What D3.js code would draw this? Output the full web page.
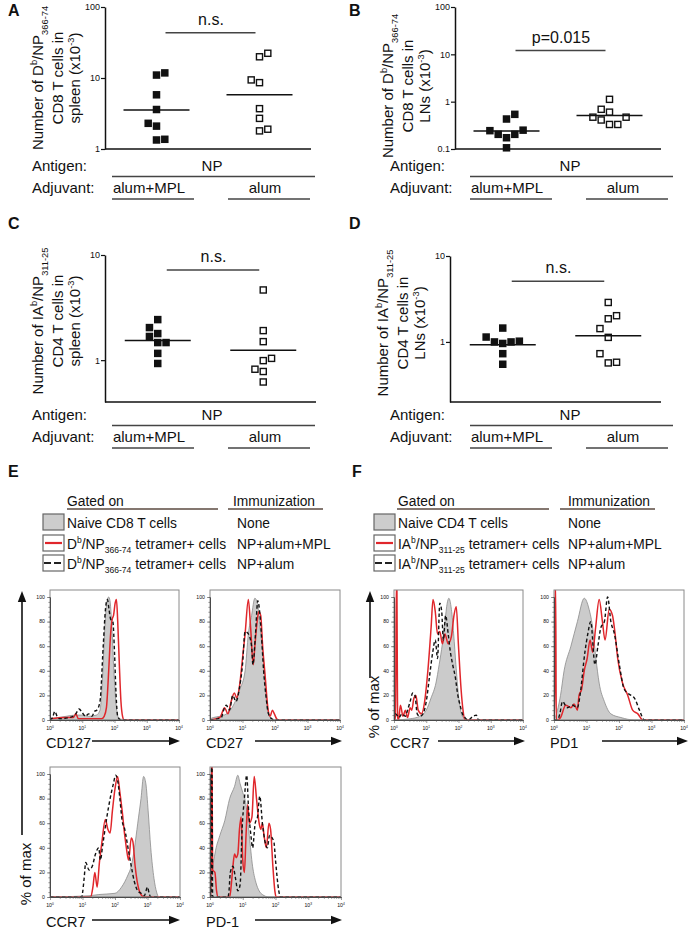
<!DOCTYPE html>
<html><head><meta charset="utf-8">
<script src="https://cdn.jsdelivr.net/npm/d3@7"></script>
<style>body{margin:0;background:#fff}svg{display:block}text{font-family:"Liberation Sans",Arial,sans-serif;fill:#111}</style>
</head><body><svg id="c" width="693" height="930"></svg>
<script>
// ---------------- DATA ----------------
const groups = ["alum+MPL", "alum"];
// Panel A (Db/NP366-74 CD8, spleen)
const ticksA = [1, 10, 100];
const aMPL = [11.0, 11.8, 5.8, 3.6, 2.3, 2.1, 1.34, 1.37];
const aMPLcol = [0, 1, 0, 0, -1, 0, 0, 1];
const aAlum = [19.9, 22.3, 9.4, 8.6, 3.7, 2.7, 1.8, 1.9];
const aAlumCol = [0, 1, -1, 0, 0, 0, 0, 1];
const aMed = [3.55, 5.8];
// Panel B (Db/NP366-74 CD8, LNs)
const ticksB = [0.1, 1, 10, 100];
const bMPL = [0.54, 0.43, 0.244, 0.204, 0.173, 0.204, 0.25, 0.106];
const bMPLcol = [1, 0, -2, -1, 0, 1, 2, 0];
const bAlum = [1.12, 0.69, 0.6, 0.47, 0.41, 0.33, 0.33, 0.47];
const bAlumCol = [0, -1, 0, -2, -1, 0, 1, 2];
const bMed = [0.24, 0.51];
// Panel C (IAb/NP311-25 CD4, spleen)
const ticksC = [1, 10];
const cMPL = [2.43, 2.04, 1.68, 1.79, 1.47, 1.47, 1.16, 0.93];
const cMPLcol = [0, -1, -1, 0, 0, 1, 0, 0];
const cAlum = [4.65, 1.91, 1.50, 1.04, 0.99, 0.82, 0.78, 0.62];
const cAlumCol = [0, 0, 0, 1, 0, -1, 0, 0];
const cMed = [1.54, 1.24];
// Panel D (IAb/NP311-25 CD4, LNs)
const ticksD = [1, 10];
const dMPL = [1.45, 1.14, 1.0, 0.96, 1.0, 1.02, 0.73, 0.55];
const dMPLcol = [0, -2, -1, 0, 1, 2, 0, 0];
const dAlum = [2.88, 1.86, 2.02, 1.43, 1.13, 0.73, 0.57, 0.58];
const dAlumCol = [0, 0, 1, -1, 0, -1, 0, 1];
const dMed = [0.93, 1.18];
const sigLabels = ["n.s.", "p=0.015", "n.s.", "n.s."];

// Histograms: [log10 fluorescence, % of max]
const histTicksY = [0, 20, 40, 60, 80, 100];
const histTicksX = [1, 10, 100, 1000, 10000];
const e127Naive = [[0,1],[0.5,3],[0.8,4],[1.0,4],[1.2,3],[1.44,4],[1.55,8],[1.63,35],[1.7,75],[1.77,97],[1.82,100],[1.86,97],[1.91,80],[1.98,40],[2.06,10],[2.14,1],[2.4,0],[4,0]];
const e127MPL = [[0,1],[0.5,2],[0.72,2],[0.8,5],[0.88,1],[1.2,1],[1.6,1],[1.68,3],[1.75,10],[1.82,40],[1.88,70],[1.93,82],[1.97,85],[2.02,95],[2.06,98],[2.1,80],[2.15,45],[2.2,15],[2.25,3],[2.3,0],[4,0]];
const e127Alum = [[0,0],[0.08,2],[0.15,7],[0.22,3],[0.3,1],[0.6,2],[0.8,5],[0.9,9],[1.0,6],[1.1,3],[1.2,5],[1.3,3],[1.38,7],[1.45,8],[1.55,15],[1.65,60],[1.72,90],[1.78,98],[1.83,90],[1.88,82],[1.95,80],[2.0,55],[2.05,20],[2.1,3],[2.2,0],[4,0]];
const e27Naive = [[0,1],[0.1,2],[0.3,3],[0.51,5],[0.72,12],[0.92,25],[1.08,40],[1.18,70],[1.28,85],[1.38,99],[1.46,95],[1.54,75],[1.64,50],[1.72,20],[1.79,5],[1.9,1],[2.05,0],[4,0]];
const e27MPL = [[0,0],[0.3,2],[0.45,10],[0.55,5],[0.65,15],[0.75,22],[0.82,18],[0.92,30],[1.0,50],[1.08,70],[1.18,98],[1.25,75],[1.33,45],[1.38,60],[1.45,80],[1.5,88],[1.56,85],[1.62,60],[1.7,35],[1.78,10],[1.85,3],[1.92,8],[1.98,5],[2.05,1],[2.1,0],[4,0]];
const e27Alum = [[0,0],[0.35,2],[0.42,8],[0.5,12],[0.6,8],[0.7,20],[0.8,15],[0.9,25],[1.0,45],[1.08,72],[1.18,70],[1.28,60],[1.32,45],[1.4,70],[1.47,97],[1.52,90],[1.58,70],[1.65,40],[1.72,20],[1.8,5],[1.9,1],[2.0,0],[4,0]];
const eCCR7Naive = [[0,0],[1.2,1],[1.5,2],[2.0,3],[2.2,8],[2.4,18],[2.5,25],[2.6,40],[2.7,60],[2.8,80],[2.88,98],[2.95,92],[3.02,70],[3.1,40],[3.2,15],[3.28,4],[3.35,0],[4,0]];
const eCCR7MPL = [[0,0],[1.25,0],[1.32,8],[1.38,20],[1.45,8],[1.52,28],[1.6,45],[1.7,63],[1.78,55],[1.85,52],[1.92,70],[2.0,88],[2.08,98],[2.15,85],[2.22,70],[2.3,50],[2.35,40],[2.42,30],[2.5,48],[2.55,45],[2.62,25],[2.7,10],[2.8,2],[2.9,0],[4,0]];
const eCCR7Alum = [[0,0],[0.98,0],[1.0,3],[1.05,15],[1.1,28],[1.2,22],[1.3,25],[1.4,35],[1.5,40],[1.55,30],[1.62,42],[1.75,65],[1.85,80],[1.95,92],[2.02,99],[2.08,95],[2.15,80],[2.22,62],[2.3,55],[2.4,40],[2.5,25],[2.6,12],[2.7,5],[2.8,3],[2.9,1],[3.0,8],[3.05,3],[3.1,0],[4,0]];
const ePD1Naive = [[0,0],[0.02,2],[0.05,15],[0.15,35],[0.3,50],[0.45,62],[0.6,80],[0.75,90],[0.85,99],[0.92,92],[1.0,85],[1.1,75],[1.2,50],[1.3,25],[1.4,12],[1.5,5],[1.6,2],[1.8,0],[4,0]];
const ePD1MPL = [[0,0],[0.03,0],[0.045,110],[0.06,110],[0.08,22],[0.15,20],[0.2,5],[0.25,0],[0.6,0],[0.65,10],[0.7,25],[0.75,35],[0.8,32],[0.85,35],[0.9,55],[0.95,65],[1.0,30],[1.05,20],[1.1,50],[1.15,75],[1.2,60],[1.28,65],[1.35,98],[1.42,80],[1.5,60],[1.55,55],[1.6,60],[1.65,50],[1.72,40],[1.8,60],[1.85,55],[1.92,25],[1.98,5],[2.02,0],[4,0]];
const ePD1Alum = [[0,0],[0.03,0],[0.045,110],[0.06,110],[0.08,0],[0.55,0],[0.58,5],[0.62,20],[0.7,25],[0.78,15],[0.85,5],[0.92,10],[0.98,55],[1.05,80],[1.12,99],[1.18,70],[1.25,50],[1.3,40],[1.38,60],[1.45,65],[1.52,82],[1.6,60],[1.68,45],[1.75,40],[1.82,50],[1.95,45],[2.0,30],[2.1,5],[2.15,0],[4,0]];
const fCCR7Naive = [[0,0],[0.5,1],[0.8,3],[1.0,8],[1.15,18],[1.3,30],[1.4,45],[1.5,62],[1.58,80],[1.65,95],[1.7,99],[1.78,90],[1.85,70],[1.92,45],[2.0,20],[2.08,6],[2.15,2],[2.3,0],[4,0]];
const fCCR7MPL = [[0,0],[0.05,0],[0.07,110],[0.09,110],[0.11,3],[0.14,0],[0.2,12],[0.28,3],[0.35,8],[0.42,2],[0.5,10],[0.55,8],[0.62,18],[0.68,20],[0.75,8],[0.85,5],[0.95,15],[1.05,40],[1.15,75],[1.21,98],[1.28,88],[1.35,70],[1.42,72],[1.5,62],[1.58,70],[1.68,62],[1.78,68],[1.86,85],[1.93,92],[2.0,60],[2.08,25],[2.14,8],[2.2,0],[4,0]];
const fCCR7Alum = [[0,0],[0.05,5],[0.15,2],[0.25,5],[0.35,3],[0.42,8],[0.5,15],[0.58,22],[0.65,20],[0.72,5],[0.8,3],[0.9,5],[1.0,15],[1.1,35],[1.2,55],[1.28,65],[1.35,50],[1.42,95],[1.48,88],[1.53,65],[1.6,85],[1.68,70],[1.75,55],[1.82,45],[1.9,35],[1.98,20],[2.05,12],[2.12,5],[2.2,2],[2.3,0],[2.45,3],[2.55,4],[2.62,0],[4,0]];
const fPD1Naive = [[0,0],[0.05,3],[0.2,20],[0.31,40],[0.52,60],[0.72,80],[0.93,99],[1.08,90],[1.19,75],[1.29,50],[1.39,30],[1.55,15],[1.75,5],[2.06,2],[2.47,0],[4,0]];
const fPD1MPL = [[0,0],[0.02,0],[0.035,110],[0.05,110],[0.07,0],[0.12,0],[0.2,2],[0.36,12],[0.52,10],[0.62,13],[0.72,8],[0.77,20],[0.85,25],[0.93,40],[1.02,50],[1.11,65],[1.19,55],[1.28,75],[1.39,98],[1.49,80],[1.57,65],[1.7,90],[1.8,85],[1.88,70],[1.96,50],[2.11,30],[2.27,20],[2.42,8],[2.58,5],[2.73,0],[4,0]];
const fPD1Alum = [[0,0],[0.1,0],[0.18,5],[0.26,15],[0.41,10],[0.57,12],[0.72,10],[0.8,20],[0.95,55],[1.04,70],[1.13,80],[1.26,45],[1.35,60],[1.44,75],[1.55,80],[1.65,100],[1.75,80],[1.86,70],[2.01,45],[2.16,25],[2.37,20],[2.47,18],[2.63,8],[2.78,0],[4,0]];

// ---------------- HELPERS ----------------
const svg = d3.select("#c");
const FONT = 15;

function rich(sel, parts, size) {
  let shift = 0;
  parts.forEach(p => {
    const t = typeof p === "string" ? p : p[0];
    const kind = typeof p === "string" ? null : p[1];
    const target = kind === "sup" ? -size * 0.4 : kind === "sub" ? size * 0.3 : 0;
    sel.append("tspan").attr("dy", target - shift)
      .attr("font-size", kind ? size * 0.62 : size).text(t);
    shift = target;
  });
  return sel;
}

function letter(t, x, y) {
  svg.append("text").attr("x", x).attr("y", y).attr("font-size", 16)
    .attr("font-weight", "bold").text(t);
}

function arrow(x1, y1, x2, y2) {
  const g = svg.append("g");
  const dx = x2 - x1, dy = y2 - y1, L = Math.hypot(dx, dy);
  const ux = dx / L, uy = dy / L, hl = 11, hw = 4.2;
  g.append("line").attr("x1", x1).attr("y1", y1)
    .attr("x2", x2 - ux * hl * 0.8).attr("y2", y2 - uy * hl * 0.8)
    .attr("stroke", "#111").attr("stroke-width", 1.6);
  const bx = x2 - ux * hl, by = y2 - uy * hl;
  g.append("path").attr("d",
    `M${x2},${y2}L${bx - uy * hw},${by + ux * hw}L${bx + uy * hw},${by - ux * hw}Z`)
    .attr("fill", "#111");
}

// ---------------- DOT PANELS ----------------
const panels = [
  { L: "A", lx: 8, ly: 16, x0: 105, x1: 311, yTop: 7, yBot: 149, domain: [1, 100], ticks: ticksA,
    mpl: aMPL, mplCol: aMPLcol, alum: aAlum, alumCol: aAlumCol, med: aMed, sigAt: 43.5, sig: sigLabels[0],
    cell: "CD8", organ: "spleen", cy: 78, rowX0: 112, rowY: 171 },
  { L: "B", lx: 349, ly: 16, x0: 455, x1: 661, yTop: 7, yBot: 149, domain: [0.1, 100], ticks: ticksB,
    mpl: bMPL, mplCol: bMPLcol, alum: bAlum, alumCol: bAlumCol, med: bMed, sigAt: 12, sig: sigLabels[1],
    cell: "CD8", organ: "LNs", cy: 86, rowX0: 470, rowY: 171 },
  { L: "C", lx: 8, ly: 229, x0: 105, x1: 316, yTop: 255, yBot: 402, domain: [0.4, 10], ticks: ticksC,
    mpl: cMPL, mplCol: cMPLcol, alum: cAlum, alumCol: cAlumCol, med: cMed, sigAt: 7.2, sig: sigLabels[2],
    cell: "CD4", organ: "spleen", cy: 321, rowX0: 112, rowY: 420 },
  { L: "D", lx: 349, ly: 229, x0: 450, x1: 661, yTop: 256, yBot: 402, domain: [0.2, 10], ticks: ticksD,
    mpl: dMPL, mplCol: dMPLcol, alum: dAlum, alumCol: dAlumCol, med: dMed, sigAt: 5.1, sig: sigLabels[3],
    cell: "CD4", organ: "LNs", cy: 323, rowX0: 470, rowY: 420 }
];

panels.forEach(p => {
  letter(p.L, p.lx, p.ly);
  const y = d3.scaleLog().domain(p.domain).range([p.yBot, p.yTop]);
  const x = d3.scalePoint().domain(groups).range([p.x0, p.x1]).padding(0.5);
  const g = svg.append("g");
  const ax = g.append("g").attr("transform", `translate(${p.x0},0)`)
    .call(d3.axisLeft(y).tickValues(p.ticks).tickFormat(d3.format("~g")).tickSize(4).tickSizeOuter(0));
  ax.select(".domain").attr("stroke", "#111").attr("stroke-width", 1.5);
  ax.selectAll(".tick line").attr("stroke", "#111").attr("stroke-width", 1.2);
  ax.selectAll(".tick text").attr("font-size", 9).attr("x", -5)
    .style("font-family", '"Liberation Sans",Arial,sans-serif').attr("fill", "#111");
  g.append("line").attr("x1", x.range()[0]).attr("x2", x.range()[1])
    .attr("y1", p.yBot).attr("y2", p.yBot).attr("stroke", "#111").attr("stroke-width", 1.5);

  const jit = 8.3, s = 7.5;
  const mplPts = p.mpl.map((v, i) => ({ v, c: p.mplCol[i] }));
  const alumPts = p.alum.map((v, i) => ({ v, c: p.alumCol[i] }));
  g.selectAll(".f").data(mplPts).join("rect")
    .attr("x", d => x(groups[0]) + d.c * jit - s / 2).attr("y", d => y(d.v) - s / 2)
    .attr("width", s).attr("height", s).attr("fill", "#111");
  g.selectAll(".o").data(alumPts).join("rect")
    .attr("x", d => x(groups[1]) + d.c * jit - (s - 1.4) / 2).attr("y", d => y(d.v) - (s - 1.4) / 2)
    .attr("width", s - 1.4).attr("height", s - 1.4).attr("fill", "#fff")
    .attr("stroke", "#111").attr("stroke-width", 1.4);
  groups.forEach((gr, i) => {
    g.append("line").attr("x1", x(gr) - 33).attr("x2", x(gr) + 33)
      .attr("y1", y(p.med[i])).attr("y2", y(p.med[i])).attr("stroke", "#111").attr("stroke-width", 1.5);
  });
  // significance
  const sy = y(p.sigAt);
  g.append("line").attr("x1", x(groups[0]) + 9).attr("x2", x(groups[1]) - 4)
    .attr("y1", sy).attr("y2", sy).attr("stroke", "#444").attr("stroke-width", 1.5);
  g.append("text").attr("x", (x(groups[0]) + x(groups[1])) / 2 + 3).attr("y", sy - 8)
    .attr("text-anchor", "middle").attr("font-size", 16).text(p.sig);

  // y label
  const tetr = p.cell === "CD8"
    ? ["Number of D", ["b", "sup"], "/NP", ["366-74", "sub"]]
    : ["Number of IA", ["b", "sup"], "/NP", ["311-25", "sub"]];
  const lines = [tetr, [p.cell + " T cells in"], [p.organ + " (x10", ["-3", "sup"], ")"]];
  const bxs = [p.x0 - 62, p.x0 - 42, p.x0 - 25];
  lines.forEach((ln, i) => {
    const t = g.append("text").attr("text-anchor", "middle")
      .attr("transform", `translate(${bxs[i]},${p.cy}) rotate(-90)`);
    rich(t, ln, FONT);
  });

  // rows
  const r0 = p.rowX0, ry = p.rowY;
  g.append("text").attr("x", r0 - 80).attr("y", ry).attr("font-size", FONT).text("Antigen:");
  g.append("text").attr("x", r0 - 80).attr("y", ry + 22).attr("font-size", FONT).text("Adjuvant:");
  g.append("text").attr("x", r0 + 100).attr("y", ry).attr("text-anchor", "middle").attr("font-size", FONT).text("NP");
  g.append("text").attr("x", r0 + 37).attr("y", ry + 22).attr("text-anchor", "middle").attr("font-size", FONT).text(groups[0]);
  g.append("text").attr("x", r0 + 153).attr("y", ry + 22).attr("text-anchor", "middle").attr("font-size", FONT).text(groups[1]);
  [[r0, r0 + 203, ry + 5.5], [r0, r0 + 82, ry + 28], [r0 + 116, r0 + 198, ry + 28]].forEach(([a, b, yy]) => {
    g.append("line").attr("x1", a).attr("x2", b).attr("y1", yy).attr("y2", yy)
      .attr("stroke", "#444").attr("stroke-width", 1.5);
  });
});

// ---------------- LEGENDS ----------------
function legend(cfg, cellName, tetr) {
  const g = svg.append("g");
  const fs = 13.8, hy = 506;
  g.append("text").attr("x", cfg.gx).attr("y", hy).attr("font-size", fs).text("Gated on");
  g.append("text").attr("x", cfg.ix).attr("y", hy).attr("font-size", fs).text("Immunization");
  [[cfg.u1[0], cfg.u1[1]], [cfg.u2[0], cfg.u2[1]]].forEach(([a, b]) =>
    g.append("line").attr("x1", a).attr("x2", b).attr("y1", hy + 3).attr("y2", hy + 3)
      .attr("stroke", "#5b4a40").attr("stroke-width", 1.3));
  const rowsL = [[`Naive ${cellName} T cells`], tetr.concat([" tetramer+ cells"]), tetr.concat([" tetramer+ cells"])];
  const rowsR = ["None", "NP+alum+MPL", "NP+alum"];
  const tops = [514, 535, 555];
  tops.forEach((t, i) => {
    const bx = cfg.bx, bw = 21, bh = 16;
    g.append("rect").attr("x", bx).attr("y", t).attr("width", bw).attr("height", bh)
      .attr("fill", i === 0 ? "#cdcdcd" : "#fff").attr("stroke", "#666").attr("stroke-width", 1.2);
    if (i === 1) g.append("line").attr("x1", bx + 2).attr("x2", bx + bw - 2).attr("y1", t + bh / 2).attr("y2", t + bh / 2)
      .attr("stroke", "#e0262b").attr("stroke-width", 2.2);
    if (i === 2) g.append("line").attr("x1", bx + 1).attr("x2", bx + bw - 1).attr("y1", t + bh / 2).attr("y2", t + bh / 2)
      .attr("stroke", "#222").attr("stroke-width", 1.8).attr("stroke-dasharray", "7,3");
    rich(g.append("text").attr("x", bx + 24).attr("y", t + 13.5), rowsL[i], fs);
    g.append("text").attr("x", cfg.rx).attr("y", t + 13.5).attr("font-size", fs).text(rowsR[i]);
  });
}
letter("E", 8, 477);
letter("F", 352, 477);
legend({ gx: 67, ix: 233, u1: [67, 218], u2: [228, 323], bx: 43, rx: 237 }, "CD8",
  ["D", ["b", "sup"], "/NP", ["366-74", "sub"]]);
legend({ gx: 398, ix: 568, u1: [397, 549], u2: [560, 655], bx: 374, rx: 568 }, "CD4",
  ["IA", ["b", "sup"], "/NP", ["311-25", "sub"]]);

// ---------------- HISTOGRAMS ----------------
let clipId = 0;
function hist(h) {
  const g = svg.append("g");
  const top = h.yb - 130;
  const xs = d3.scaleLog().domain([1, 10000]).range([h.x0, h.x1]);
  const ys = d3.scaleLinear().domain([0, 100]).range([h.yb, h.yb - 123]);
  const id = "clip" + (clipId++);
  g.append("clipPath").attr("id", id).append("rect")
    .attr("x", h.x0).attr("y", top).attr("width", h.x1 - h.x0).attr("height", 130);
  const pg = g.append("g").attr("clip-path", `url(#${id})`);
  const area = d3.area().x(d => xs(Math.pow(10, d[0]))).y0(h.yb).y1(d => ys(d[1])).curve(d3.curveMonotoneX);
  const line = d3.line().x(d => xs(Math.pow(10, d[0]))).y(d => ys(d[1])).curve(d3.curveMonotoneX);
  pg.append("path").attr("d", area(h.naive)).attr("fill", "#cbcbcb").attr("stroke", "#8c8c8c").attr("stroke-width", 0.8);
  pg.append("path").attr("d", line(h.mpl)).attr("fill", "none").attr("stroke", "#e0262b").attr("stroke-width", 1.5);
  pg.append("path").attr("d", line(h.alum)).attr("fill", "none").attr("stroke", "#111").attr("stroke-width", 1.4)
    .attr("stroke-dasharray", "3.5,2.5");
  g.append("rect").attr("x", h.x0).attr("y", top).attr("width", h.x1 - h.x0).attr("height", 130)
    .attr("fill", "none").attr("stroke", "#8a8a8a").attr("stroke-width", 1);
  // axes
  const minor = [];
  for (let e = 0; e < 4; e++) for (let m = 2; m < 10; m++) minor.push(m * Math.pow(10, e));
  const axX = g.append("g").attr("transform", `translate(0,${h.yb})`)
    .call(d3.axisBottom(xs).tickValues(histTicksX).tickFormat("").tickSize(3).tickSizeOuter(0));
  const axXm = g.append("g").attr("transform", `translate(0,${h.yb})`)
    .call(d3.axisBottom(xs).tickValues(minor).tickFormat("").tickSize(1.8).tickSizeOuter(0));
  const axY = g.append("g").attr("transform", `translate(${h.x0},0)`)
    .call(d3.axisLeft(ys).tickValues(histTicksY).tickFormat("").tickSize(3).tickSizeOuter(0));
  const axYm = g.append("g").attr("transform", `translate(${h.x0},0)`)
    .call(d3.axisLeft(ys).tickValues(d3.range(0, 101, 4)).tickFormat("").tickSize(1.6).tickSizeOuter(0));
  [axX, axXm, axY, axYm].forEach(a => {
    a.select(".domain").attr("stroke", "#444").attr("stroke-width", 0.8);
    a.selectAll(".tick line").attr("stroke", "#555").attr("stroke-width", 0.6);
  });
  histTicksY.forEach(v => g.append("text").attr("x", h.x0 - 5).attr("y", ys(v) + 1.8)
    .attr("text-anchor", "end").attr("font-size", 5.2).attr("fill", "#333").text(v));
  histTicksX.forEach((v, i) => {
    const t = g.append("text").attr("x", xs(v)).attr("y", h.yb + 10).attr("text-anchor", "middle")
      .attr("font-size", 5.2).attr("fill", "#333");
    rich(t, ["10", [String(i), "sup"]], 5.2);
  });
  // title + arrow
  g.append("text").attr("x", h.x0 - 4).attr("y", h.ly).attr("font-size", 14.5).text(h.label);
  arrow(h.a0, h.ly - 7, h.a1, h.ly - 7);
}

hist({ x0: 50, x1: 179, yb: 720, naive: e127Naive, mpl: e127MPL, alum: e127Alum, label: "CD127", ly: 748, a0: 92, a1: 180 });
hist({ x0: 210, x1: 340, yb: 720, naive: e27Naive, mpl: e27MPL, alum: e27Alum, label: "CD27", ly: 748, a0: 255, a1: 342 });
hist({ x0: 50, x1: 180, yb: 897, naive: eCCR7Naive, mpl: eCCR7MPL, alum: eCCR7Alum, label: "CCR7", ly: 927, a0: 92, a1: 180 });
hist({ x0: 210, x1: 341, yb: 897, naive: ePD1Naive, mpl: ePD1MPL, alum: ePD1Alum, label: "PD-1", ly: 927, a0: 255, a1: 342 });
hist({ x0: 394, x1: 523, yb: 720, naive: fCCR7Naive, mpl: fCCR7MPL, alum: fCCR7Alum, label: "CCR7", ly: 748, a0: 438, a1: 525 });
hist({ x0: 554, x1: 684, yb: 720, naive: fPD1Naive, mpl: fPD1MPL, alum: fPD1Alum, label: "PD1", ly: 748, a0: 602, a1: 688 });

// "% of max" axis arrows
arrow(22, 835, 22, 591);
svg.append("text").attr("transform", "translate(31,874) rotate(-90)").attr("text-anchor", "middle")
  .attr("font-size", 15).text("% of max");
arrow(370, 678, 370, 591);
svg.append("text").attr("transform", "translate(379,707) rotate(-90)").attr("text-anchor", "middle")
  .attr("font-size", 15).text("% of max");
</script></body></html>
